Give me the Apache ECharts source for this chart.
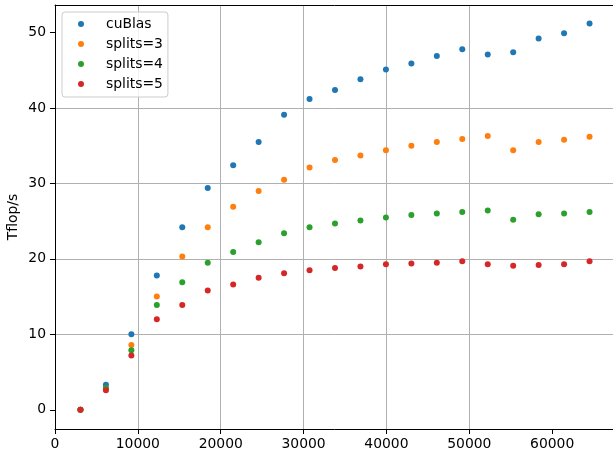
<!doctype html>
<html>
<head>
<meta charset="utf-8">
<title>Tflop/s</title>
<script src="https://cdn.jsdelivr.net/npm/echarts@6/dist/echarts.min.js"></script>
<style>
  html, body { margin: 0; padding: 0; background: #fff; }
  #chart { width: 613px; height: 452px; }
</style>
</head>
<body>
<div id="chart"></div>
<script>
// matrix size (x) and measured Tflop/s per run
var sizes = [3072, 6144, 9216, 12288, 15360, 18432, 21504, 24576, 27648, 30720, 33792,
             36864, 39936, 43008, 46080, 49152, 52224, 55296, 58368, 61440, 64512];
var cuBlas  = [0, 3.3, 10.0, 17.8, 24.2, 29.4, 32.4, 35.5, 39.1, 41.2, 42.4,
               43.8, 45.1, 45.9, 46.9, 47.8, 47.1, 47.4, 49.2, 49.9, 51.2];
var splits3 = [0, 2.8, 8.6, 15.0, 20.3, 24.2, 26.9, 29.0, 30.5, 32.1, 33.1,
               33.7, 34.4, 35.0, 35.5, 35.9, 36.3, 34.4, 35.5, 35.8, 36.2];
var splits4 = [0, 2.9, 7.9, 13.9, 16.9, 19.5, 20.9, 22.2, 23.4, 24.2, 24.7,
               25.1, 25.5, 25.8, 26.0, 26.2, 26.4, 25.2, 25.9, 26.0, 26.2];
var splits5 = [0, 2.6, 7.2, 12.0, 13.9, 15.8, 16.6, 17.5, 18.1, 18.5, 18.8,
               19.0, 19.3, 19.4, 19.5, 19.7, 19.3, 19.1, 19.2, 19.3, 19.7];

var xTicks = [0, 10000, 20000, 30000, 40000, 50000, 60000];
var yTicks = [0, 10, 20, 30, 40, 50];
var xMin = 0, xMax = 67584;
var yMin = -2.55, yMax = 53.65;

var names  = ['cuBlas', 'splits=3', 'splits=4', 'splits=5'];
var colors = ['#1f77b4', '#ff7f0e', '#2ca02c', '#d62728'];
var values = [cuBlas, splits3, splits4, splits5];

var font = 'DejaVu Sans';

function pairs(ys) {
    return sizes.map(function (x, i) { return [x, ys[i]]; });
}

var chart = echarts.init(document.getElementById('chart'), null, { renderer: 'canvas' });

var gridLine = { show: true, showMinLine: false, showMaxLine: false, lineStyle: { color: '#b0b0b0', width: 1 } };
var tickLabel = { fontFamily: font, fontSize: 13.9, color: '#000' };

var option = {
    animation: false,
    backgroundColor: '#fff',
    textStyle: { fontFamily: font },
    grid: {
        left: 55, top: 5, right: -2, bottom: 23,
        containLabel: false,
        outerBoundsMode: 'none'
    },
    legend: {
        orient: 'vertical',
        left: 62, top: 12,
        data: names,
        icon: 'circle',
        itemWidth: 6, itemHeight: 6, itemGap: 6,
        padding: [5, 5, 6, 16],
        borderColor: '#cccccc', borderWidth: 1, borderRadius: 3,
        backgroundColor: 'rgba(255,255,255,0.8)',
        formatter: '{t|{name}}',
        textStyle: {
            fontFamily: font, fontSize: 13.9, color: '#000',
            rich: { t: { fontFamily: font, fontSize: 13.9, color: '#000', lineHeight: 14.3, padding: [0, 0, 0, 17] } }
        }
    },
    xAxis: [{
        type: 'value',
        min: xMin, max: xMax,
        minInterval: 10000, maxInterval: 10000,
        axisLine: { show: true, onZero: false, lineStyle: { color: '#000', width: 1 } },
        axisTick: { show: true, length: 5, lineStyle: { color: '#000' }, customValues: xTicks },
        axisLabel: Object.assign({ customValues: xTicks, margin: 8,
            formatter: function (v) { return String(v); } }, tickLabel),
        splitLine: gridLine
    }, {
        // top spine only
        type: 'value', position: 'top',
        min: xMin, max: xMax,
        axisLine: { show: true, onZero: false, lineStyle: { color: '#000', width: 1 } },
        axisTick: { show: false }, axisLabel: { show: false }, splitLine: { show: false }
    }],
    yAxis: {
        type: 'value',
        min: yMin, max: yMax,
        minInterval: 10, maxInterval: 10,
        name: 'Tflop/s',
        nameLocation: 'middle',
        nameRotate: 90,
        nameGap: 35,
        nameMoveOverlap: false,
        nameTextStyle: { fontFamily: font, fontSize: 13.9, color: '#000' },
        axisLine: { show: true, onZero: false, lineStyle: { color: '#000', width: 1 } },
        axisTick: { show: true, length: 5, lineStyle: { color: '#000' }, customValues: yTicks },
        axisLabel: Object.assign({ customValues: yTicks, margin: 9,
            formatter: function (v) { return String(v); } }, tickLabel),
        splitLine: gridLine
    },
    series: names.map(function (n, i) {
        return {
            name: n,
            type: 'scatter',
            symbol: 'circle',
            symbolSize: 6,
            itemStyle: { color: colors[i], opacity: 1 },
            data: pairs(values[i])
        };
    })
};

chart.setOption(option);
</script>
</body>
</html>
